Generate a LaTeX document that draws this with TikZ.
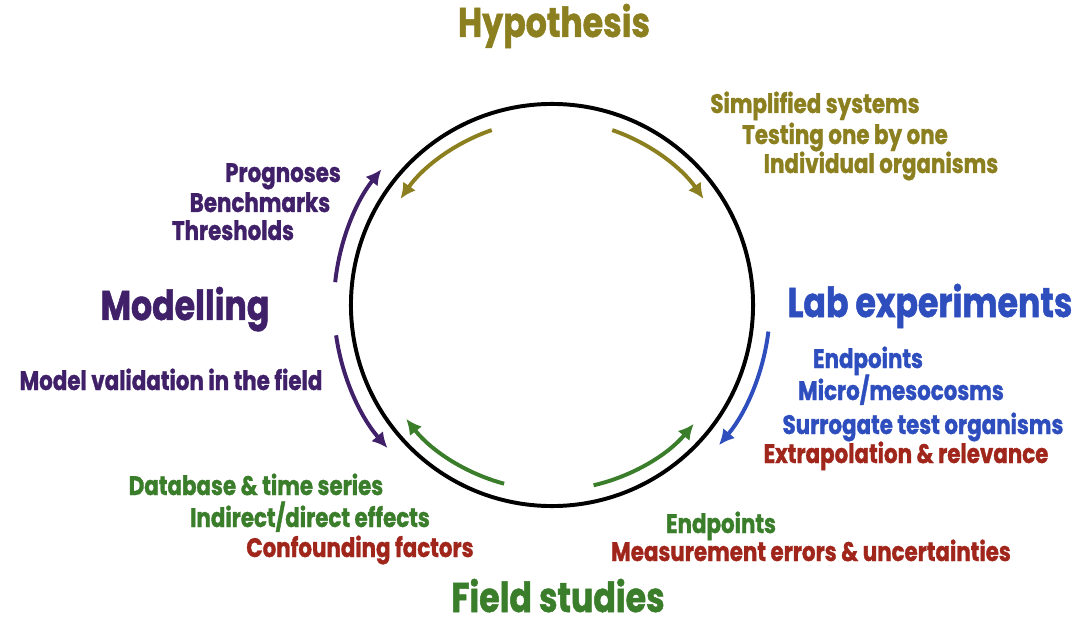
\documentclass[tikz,border=0pt]{standalone}
\usepackage{fontspec}
\setmainfont{Poppins}[FakeStretch=0.8,BoldFeatures={FakeBold=1.2}]
\usetikzlibrary{arrows.meta}
\definecolor{hypo}{RGB}{139,127,32}
\definecolor{lab}{RGB}{46,78,190}
\definecolor{field}{RGB}{58,125,42}
\definecolor{model}{RGB}{64,32,104}
\definecolor{issue}{RGB}{160,38,28}

\begin{document}
\begin{tikzpicture}
[x=0.025cm,y=-0.025cm,%
  flow/.style={line width=2.8pt,-{Latex[length=11pt,width=11pt]}},%
  big/.style={font=\fontsize{29.5}{32}\selectfont\bfseries,anchor=base,text depth=0pt},%
  small/.style={font=\fontsize{19}{21}\selectfont\bfseries,anchor=base}]
\useasboundingbox (0,0) rectangle (1080,623);
\coordinate (c) at (552,305);
\node[draw,circle,line width=2.8pt,minimum size=10.05cm] (cyc) at (c) {};
% inner arrows
\draw[flow,hypo] (c) ++(-109:185) arc[start angle=-109,end angle=-145,radius=185];
\draw[flow,hypo] (c) ++(-71:185) arc[start angle=-71,end angle=-35,radius=185];
\draw[flow,field] (c) ++(105:185) arc[start angle=105,end angle=142,radius=185];
\draw[flow,field] (c) ++(77:185) arc[start angle=77,end angle=40,radius=185];
% outer arrows
\draw[flow,model] (c) ++(186:218) arc[start angle=186,end angle=218.5,radius=218];
\draw[flow,model] (c) ++(172:218) arc[start angle=172,end angle=139,radius=218];
\draw[flow,lab] (c) ++(7:218) arc[start angle=7,end angle=40,radius=218];
% stages
\node[big,hypo] (hyp) at (554,37) {Hypothesis};
\node[big,lab] (labexp) at (930,317) {Lab experiments};
\node[big,field] (fieldst) at (558,612) {Field studies};
\node[big,model] (modl) at (185,320) {Modelling};
% hypothesis notes
\node[small,hypo] (simp) at (815,113) {Simplified systems};
\node[small,hypo] (onebyone) at (845,144) {Testing one by one};
\node[small,hypo] (indiv) at (881,173) {Individual organisms};
% lab notes
\node[small,lab] (labend) at (868,368) {Endpoints};
\node[small,lab] (micro) at (901,400) {Micro/mesocosms};
\node[small,lab] (surr) at (923,434) {Surrogate test organisms};
\node[small,issue] (extra) at (906,463) {Extrapolation \& relevance};
% field notes
\node[small,field] (fieldend) at (721,533) {Endpoints};
\node[small,issue] (meas) at (811,561) {Measurement errors \& uncertainties};
\node[small,field] (datab) at (256,495) {Database \& time series};
\node[small,field] (indir) at (310,527) {Indirect/direct effects};
\node[small,issue] (conf) at (360,557) {Confounding factors};
% modelling notes
\node[small,model] (progn) at (283,182) {Prognoses};
\node[small,model] (bench) at (260,212) {Benchmarks};
\node[small,model] (thresh) at (233,240) {Thresholds};
\node[small,model] (valid) at (171,390) {Model validation in the field};
\end{tikzpicture}
\end{document}
